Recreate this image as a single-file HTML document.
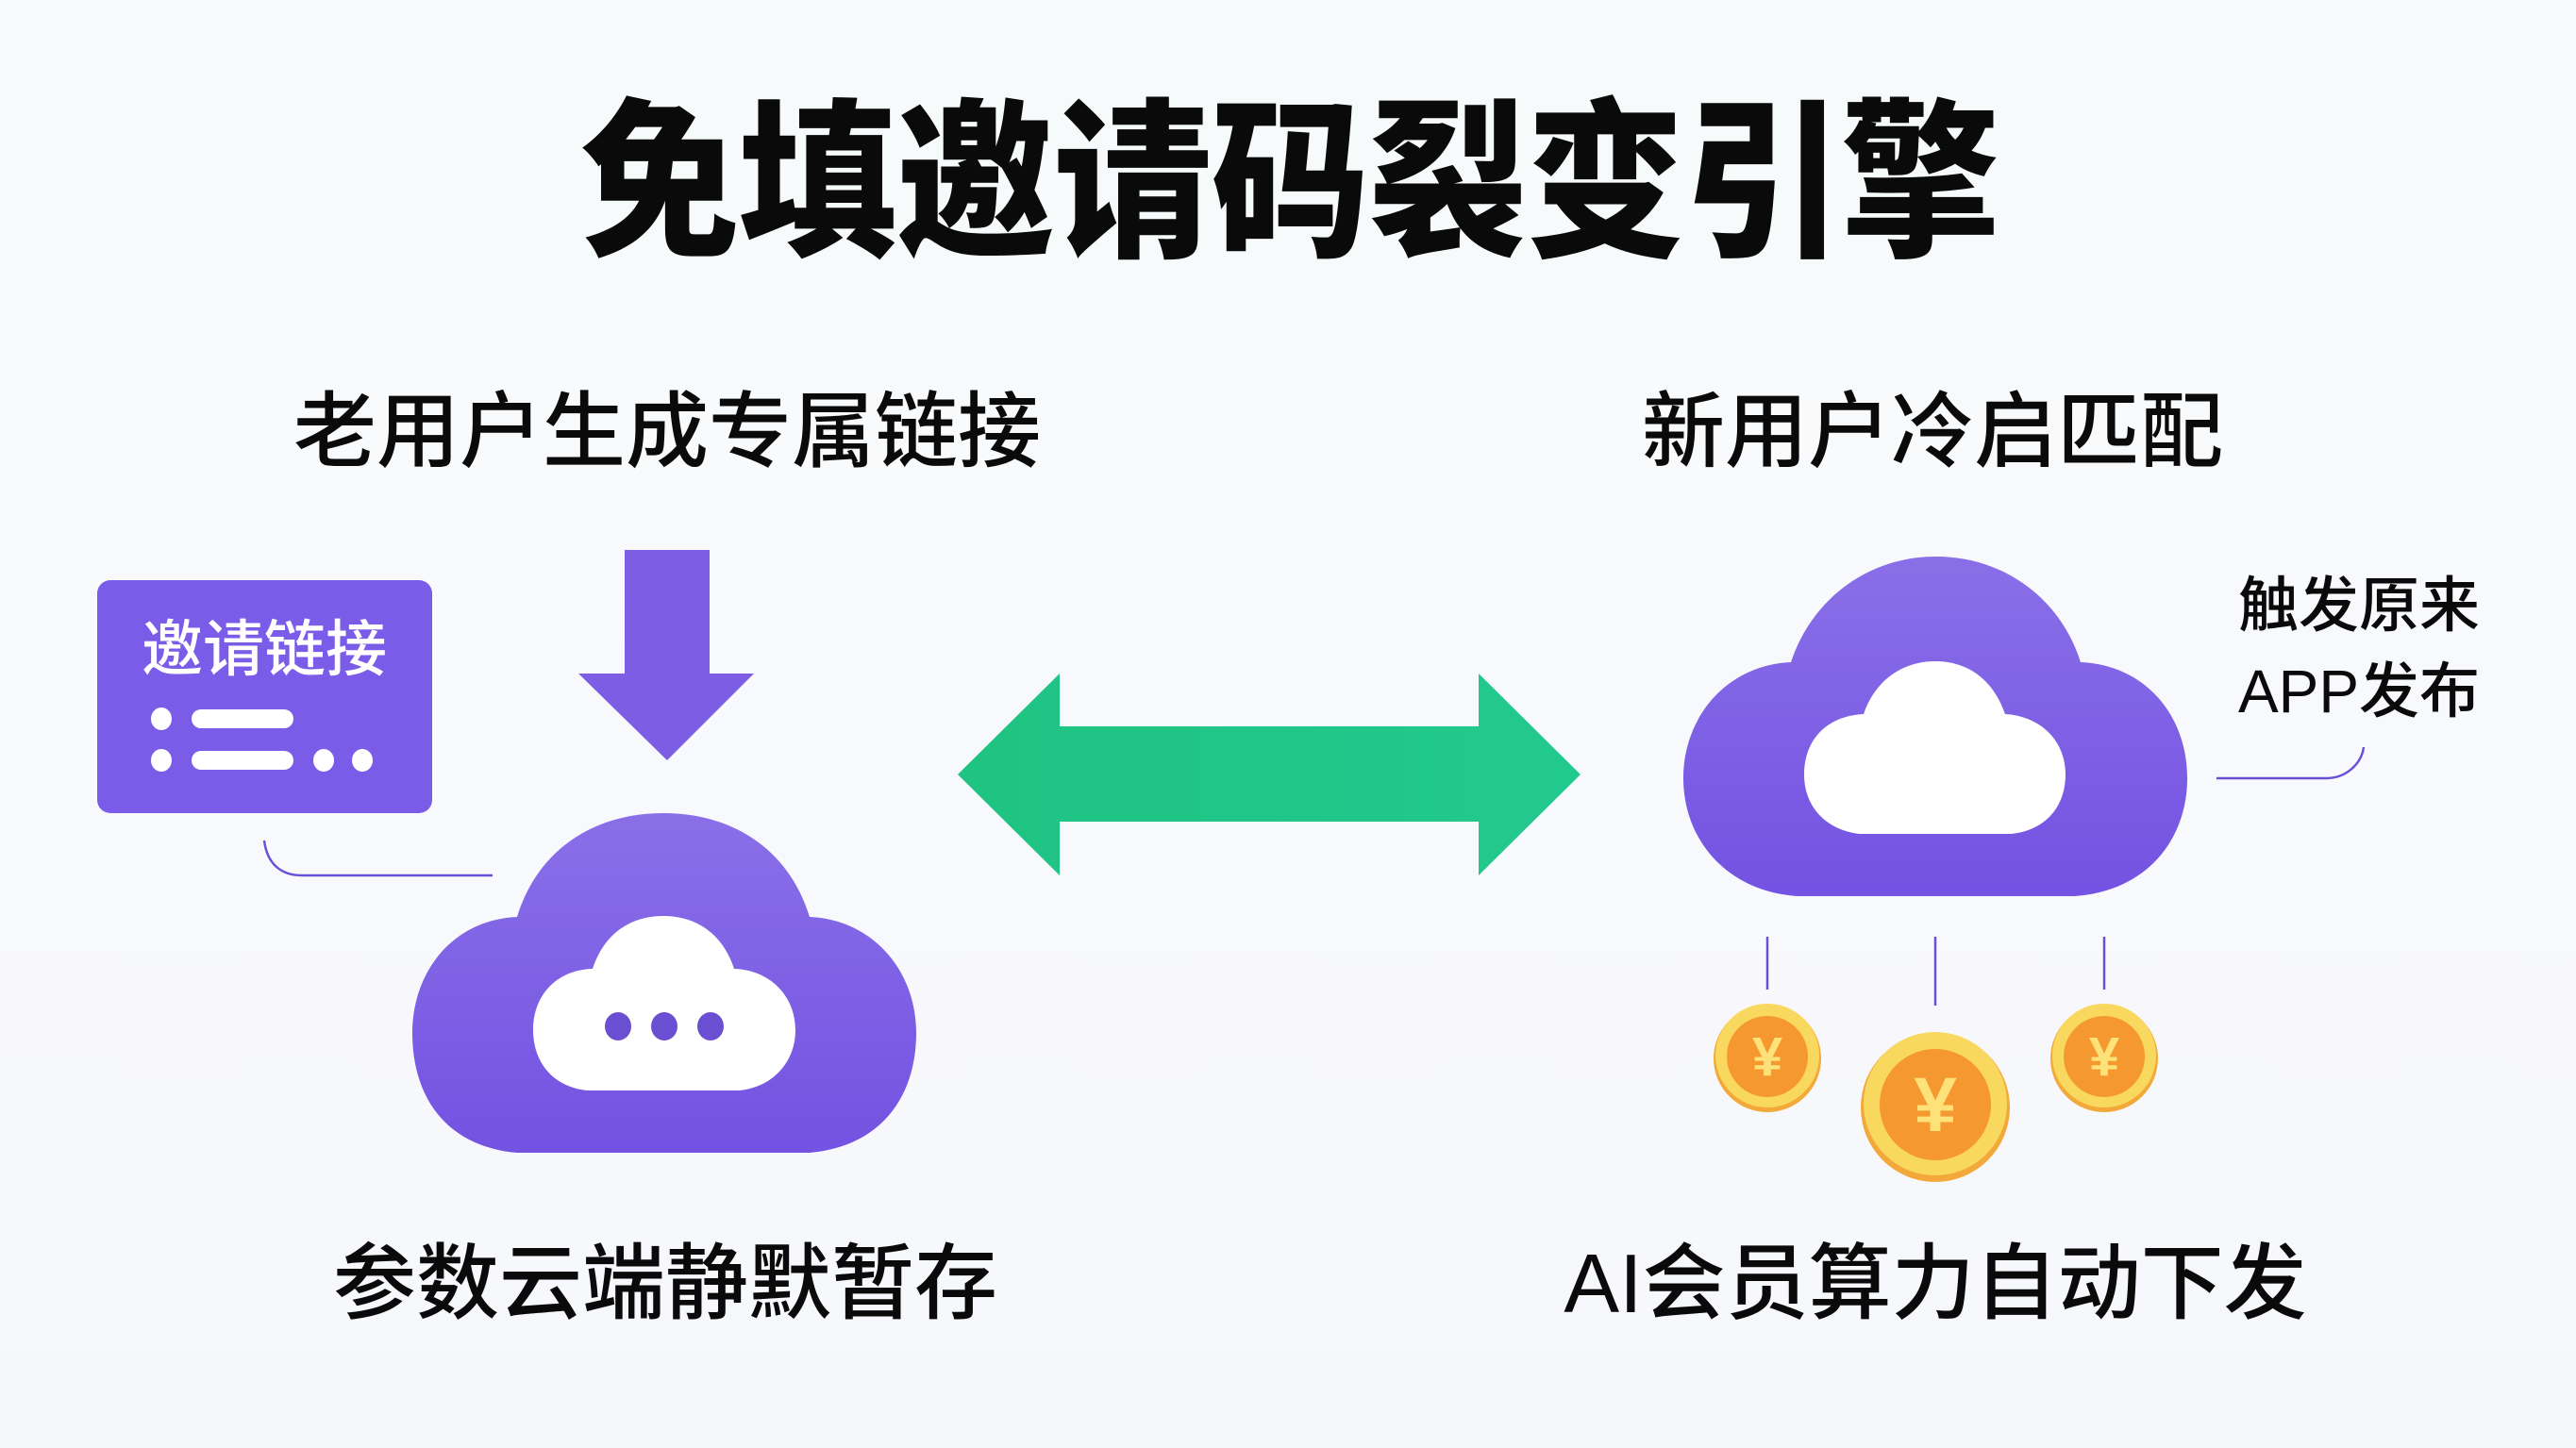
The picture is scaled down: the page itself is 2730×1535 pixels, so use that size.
<!DOCTYPE html>
<html><head><meta charset="utf-8"><style>
html,body{margin:0;padding:0}
body{width:2730px;height:1535px;overflow:hidden;background:linear-gradient(180deg,#f7fafb 0%,#f8f9fc 60%,#f6f7fb 100%);position:relative;font-family:"Liberation Sans","Noto Sans CJK SC",sans-serif;}
.t{position:absolute;white-space:nowrap;color:#0a0a0a;transform:translate(-50%,-50%);line-height:1}
svg{position:absolute;left:0;top:0}
</style></head><body>
<svg width="2730" height="1535" viewBox="0 0 2730 1535">
<defs>
<linearGradient id="pg" x1="0" y1="0" x2="0" y2="1"><stop offset="0" stop-color="#8a6fe8"/><stop offset="1" stop-color="#7452e2"/></linearGradient>
<linearGradient id="gg" x1="0" y1="0" x2="1" y2="0"><stop offset="0" stop-color="#1fc382"/><stop offset="1" stop-color="#22c98e"/></linearGradient>
</defs>
<rect x="103" y="615" width="355" height="247" rx="14" fill="#7b5ce8"/>
<ellipse cx="171" cy="762" rx="11" ry="12" fill="#fff"/>
<rect x="203" y="752" width="108" height="20" rx="10" fill="#fff"/>
<ellipse cx="171" cy="806" rx="11" ry="12" fill="#fff"/>
<rect x="203" y="796" width="108" height="20" rx="10" fill="#fff"/>
<ellipse cx="343" cy="806" rx="11" ry="12" fill="#fff"/>
<ellipse cx="384" cy="806" rx="11" ry="12" fill="#fff"/>
<path d="M280,891 C283,915 297,928 320,928 L522,928" fill="none" stroke="#6a50d8" stroke-width="2.5"/>
<polygon points="662,583 752,583 752,714 799,714 707,806 613,714 662,714" fill="#7d5de4"/>
<path d="M548,1222 C470,1215 437,1160 437,1095 C437,1030 480,975 548,972 C570,900 630,862 703,862 C776,862 836,900 858,972 C926,975 971,1030 971,1095 C971,1160 936,1215 858,1222 Z" fill="url(#pg)"/>
<path d="M622,1156 C585,1152 565,1125 565,1092 C565,1055 590,1028 628,1027 C640,990 668,971 703,971 C738,971 766,990 778,1027 C815,1028 843,1055 843,1092 C843,1125 820,1152 784,1156 Z" fill="#fff"/>
<ellipse cx="655" cy="1088" rx="14" ry="15" fill="#6a4fd2"/>
<ellipse cx="704" cy="1088" rx="14" ry="15" fill="#6a4fd2"/>
<ellipse cx="753" cy="1088" rx="14" ry="15" fill="#6a4fd2"/>
<polygon points="1015,821 1123,714 1123,770 1567,770 1567,714 1675,821 1567,928 1567,871 1123,871 1123,928" fill="url(#gg)"/>
<path d="M1905,950 C1830,945 1784,890 1784,825 C1784,760 1830,705 1898,702 C1920,635 1980,590 2052,590 C2124,590 2184,635 2205,702 C2275,705 2318,760 2318,825 C2318,890 2275,945 2198,950 Z" fill="url(#pg)"/>
<path d="M1971,884 C1935,880 1912,855 1912,821 C1912,785 1935,759 1975,757 C1987,722 2015,701 2051,701 C2087,701 2113,722 2125,757 C2162,759 2189,785 2189,821 C2189,855 2168,880 2132,884 Z" fill="#fff"/>
<path d="M2349,825 L2465,825 C2488,825 2503,808 2505,792" fill="none" stroke="#6a50d8" stroke-width="2.5"/>
<line x1="1873" y1="993" x2="1873" y2="1049" stroke="#6a50d8" stroke-width="2.5"/>
<line x1="2051" y1="993" x2="2051" y2="1066" stroke="#6a50d8" stroke-width="2.5"/>
<line x1="2230" y1="993" x2="2230" y2="1049" stroke="#6a50d8" stroke-width="2.5"/>
<g>
<circle cx="1873" cy="1122" r="57" fill="#f2a93a"/><circle cx="1873" cy="1119" r="55" fill="#f9d860"/><circle cx="1873" cy="1120" r="43" fill="#f5982f"/>
<circle cx="2051" cy="1174" r="79" fill="#f2a93a"/><circle cx="2051" cy="1170" r="76" fill="#f9d860"/><circle cx="2051" cy="1171" r="59" fill="#f5982f"/>
<circle cx="2230" cy="1122" r="57" fill="#f2a93a"/><circle cx="2230" cy="1119" r="55" fill="#f9d860"/><circle cx="2230" cy="1120" r="43" fill="#f5982f"/>
</g>
<g fill="#fde27a" font-family="Liberation Sans,sans-serif" font-weight="700" text-anchor="middle">
<text x="1873" y="1140" font-size="58">¥</text>
<text x="2051" y="1199" font-size="82">¥</text>
<text x="2230" y="1140" font-size="58">¥</text>
</g>
</svg>
<div class="t" style="left:1367px;top:195px;font-size:168px;font-weight:900;letter-spacing:-1px;transform:translate(-50%,-50%) scaleY(1.08)">免填邀请码裂变引擎</div>
<div class="t" style="left:707px;top:458px;font-size:88px;font-weight:500">老用户生成专属链接</div>
<div class="t" style="left:2048px;top:458px;font-size:88px;font-weight:500">新用户冷启匹配</div>
<div class="t" style="left:705px;top:1361px;font-size:88px;font-weight:500">参数云端静默暂存</div>
<div class="t" style="left:2051px;top:1361px;font-size:88px;font-weight:500">AI会员算力自动下发</div>
<div class="t" style="left:280px;top:688px;font-size:65px;font-weight:500;color:#fff">邀请链接</div>
<div class="t" style="left:2500px;top:642px;font-size:64px;font-weight:500">触发原来</div>
<div class="t" style="left:2500px;top:733px;font-size:64px;font-weight:500">APP发布</div>
</body></html>
